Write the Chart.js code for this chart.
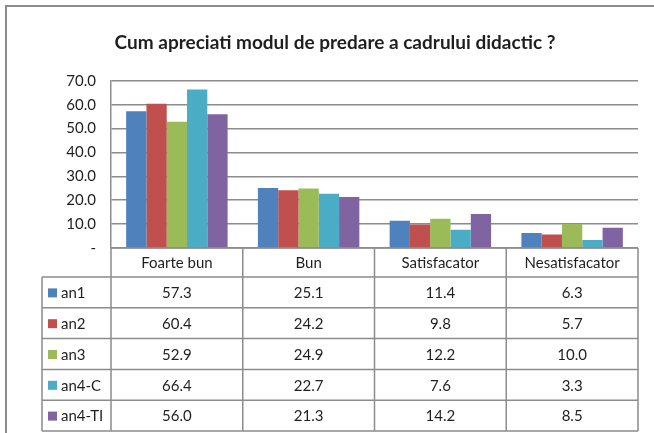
<!DOCTYPE html>
<html>
<head>
<meta charset="utf-8">
<script src="https://cdn.jsdelivr.net/npm/chart.js@4.4.1/dist/chart.umd.min.js"></script>
<style>
  html, body { margin: 0; padding: 0; background: #fff; }
  #wrap { width: 654px; height: 433px; position: relative; }
</style>
</head>
<body>
<div id="wrap"><canvas id="chart"></canvas></div>
<script>
const categories = ['Foarte bun', 'Bun', 'Satisfacator', 'Nesatisfacator'];
const seriesNames = ['an1', 'an2', 'an3', 'an4-C', 'an4-TI'];
const an1 = [57.3, 25.1, 11.4, 6.3];
const an2 = [60.4, 24.2, 9.8, 5.7];
const an3 = [52.9, 24.9, 12.2, 10.0];
const an4C = [66.4, 22.7, 7.6, 3.3];
const an4TI = [56.0, 21.3, 14.2, 8.5];
const yTicks = [0, 10, 20, 30, 40, 50, 60, 70];

const seriesValues = [an1, an2, an3, an4C, an4TI];
const seriesColors = ['#4F81BD', '#C0504D', '#9BBB59', '#4BACC6', '#8064A2'];

const FONT = 'Lato, "Liberation Sans", sans-serif';
const LINE = '#8c8c8c';
const TEXT = '#1f1f1f';

const headerH = 29;
const rowH = 30.8;
const tableLeft = 42;
const padLeft = 32;

// frame around the whole chart
const framePlugin = {
  id: 'frame',
  beforeDraw(chart) {
    const ctx = chart.ctx;
    ctx.save();
    ctx.fillStyle = '#fff';
    ctx.fillRect(0, 0, chart.width, chart.height);
    ctx.strokeStyle = LINE;
    ctx.lineWidth = 2;
    ctx.beginPath();
    ctx.moveTo(6, chart.height);
    ctx.lineTo(6, 6);
    ctx.lineTo(chart.width, 6);
    ctx.stroke();
    ctx.restore();
  }
};

// data table under the plot, Excel style
const tablePlugin = {
  id: 'dataTable',
  afterDatasetsDraw(chart) {
    const ctx = chart.ctx;
    const area = chart.chartArea;
    const x = chart.scales.x;
    const catW = (area.right - area.left) / categories.length;
    const top = area.bottom;
    const headBottom = top + headerH;
    const bottom = headBottom + rowH * seriesNames.length;

    ctx.save();
    ctx.strokeStyle = LINE;
    ctx.lineWidth = 1.5;
    ctx.beginPath();
    // vertical lines of the category columns
    for (let i = 0; i <= categories.length; i++) {
      const lx = area.left + catW * i;
      ctx.moveTo(lx, top);
      ctx.lineTo(lx, bottom);
    }
    // left legend column
    ctx.moveTo(tableLeft, headBottom);
    ctx.lineTo(tableLeft, bottom);
    // horizontal lines
    ctx.moveTo(area.left, top);
    ctx.lineTo(area.right, top);
    for (let r = 0; r <= seriesNames.length; r++) {
      const ly = headBottom + rowH * r;
      ctx.moveTo(tableLeft, ly);
      ctx.lineTo(area.right, ly);
    }
    ctx.stroke();

    ctx.fillStyle = TEXT;
    ctx.font = '15px ' + FONT;
    ctx.textAlign = 'center';
    ctx.textBaseline = 'middle';
    categories.forEach((c, i) => {
      ctx.fillText(c, x.getPixelForValue(i), top + headerH / 2 + 1);
    });

    seriesNames.forEach((name, r) => {
      const cy = headBottom + rowH * r + rowH / 2 + 1;
      ctx.fillStyle = seriesColors[r];
      ctx.fillRect(tableLeft + 6, cy - 5, 9, 9);
      ctx.fillStyle = TEXT;
      ctx.textAlign = 'left';
      ctx.fillText(name, tableLeft + 19, cy);
      ctx.textAlign = 'center';
      seriesValues[r].forEach((v, i) => {
        ctx.fillText(v.toFixed(1), x.getPixelForValue(i), cy);
      });
    });
    ctx.restore();
  }
};

const datasets = seriesNames.map((name, i) => ({
  label: name,
  data: seriesValues[i],
  backgroundColor: seriesColors[i],
  borderWidth: 0,
  barPercentage: 1,
  categoryPercentage: 0.77
}));

new Chart(document.getElementById('chart'), {
  type: 'bar',
  data: { labels: categories, datasets: datasets },
  options: {
    responsive: true,
    maintainAspectRatio: false,
    animation: false,
    layout: { padding: { left: padLeft, right: 16, top: 0, bottom: 185 } },
    plugins: {
      legend: { display: false },
      tooltip: { enabled: false },
      title: {
        display: true,
        text: 'Cum apreciati modul de predare a cadrului didactic ?',
        color: TEXT,
        font: { family: FONT, size: 19, weight: 'bold' },
        padding: { top: 31, bottom: 27 }
      }
    },
    scales: {
      x: { display: false },
      y: {
        min: 0,
        max: 70,
        afterBuildTicks: (scale) => { scale.ticks = yTicks.map(v => ({ value: v })); },
        afterFit: (scale) => { scale.width = 111 - padLeft; },
        border: { display: true, color: LINE, width: 1.5 },
        grid: { color: LINE, lineWidth: 1.5, drawTicks: false },
        ticks: {
          color: TEXT,
          padding: 15,
          font: { family: FONT, size: 15 },
          callback: (v) => v === 0 ? '-' : v.toFixed(1)
        }
      }
    }
  },
  plugins: [framePlugin, tablePlugin]
});
</script>
</body>
</html>
